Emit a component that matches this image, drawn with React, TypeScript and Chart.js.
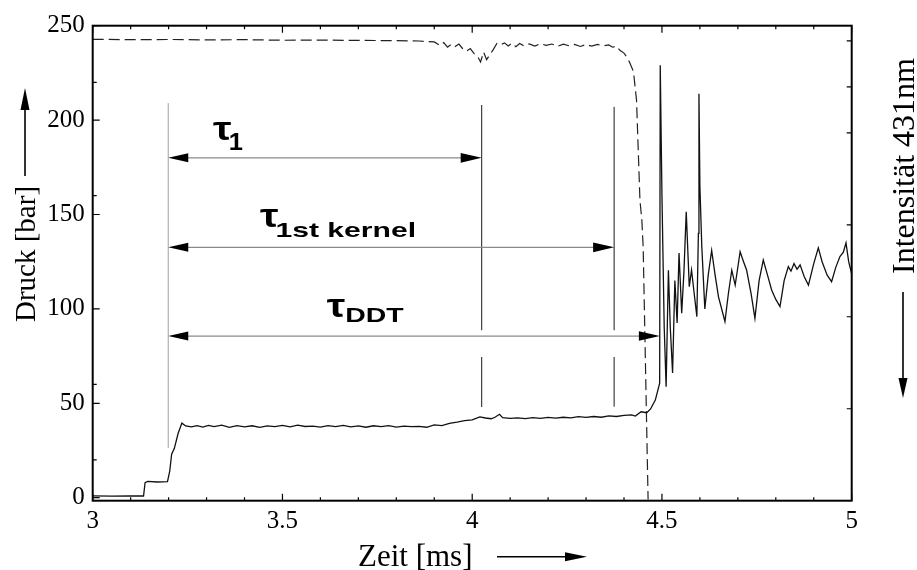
import { useEffect, useRef } from "react";
import { Chart, registerables } from "chart.js";

Chart.register(...registerables);

// ---------- data ----------
const pressureTime = [
  3.0, 3.05, 3.1, 3.134, 3.138, 3.145, 3.17, 3.197, 3.203, 3.208,
  3.215, 3.225, 3.235, 3.245, 3.26, 3.275, 3.29, 3.305, 3.32, 3.34,
  3.36, 3.38, 3.4, 3.42, 3.44, 3.46, 3.48, 3.5, 3.52, 3.54,
  3.56, 3.58, 3.6, 3.62, 3.64, 3.66, 3.68, 3.7, 3.72, 3.74,
  3.76, 3.78, 3.8, 3.82, 3.84, 3.86, 3.88, 3.9, 3.92, 3.94,
  3.96, 3.98, 4.0, 4.02, 4.035, 4.05, 4.06, 4.072, 4.08, 4.1,
  4.12, 4.14, 4.16, 4.18, 4.2, 4.22, 4.24, 4.26, 4.28, 4.3,
  4.32, 4.34, 4.36, 4.38, 4.4, 4.42, 4.43, 4.445, 4.46, 4.47,
  4.4825, 4.494, 4.4955, 4.5, 4.506, 4.511, 4.514, 4.517, 4.522, 4.528,
  4.534, 4.54, 4.545, 4.552, 4.558, 4.564, 4.572, 4.578, 4.585, 4.592,
  4.596, 4.5975, 4.6, 4.605, 4.613, 4.622, 4.631, 4.64, 4.649, 4.666,
  4.675, 4.684, 4.693, 4.706, 4.715, 4.723, 4.735, 4.745, 4.756, 4.767,
  4.778, 4.789, 4.8, 4.811, 4.822, 4.833, 4.84, 4.848, 4.856, 4.864,
  4.875, 4.886, 4.9, 4.912, 4.922, 4.935, 4.947, 4.958, 4.969, 4.978,
  4.985, 4.992, 5.0,
];
const pressureBar = [
  1.0, 0.8, 1.0, 0.9, 8.0, 8.6, 8.3, 8.5, 14.0, 23.0,
  26.0, 34.0, 39.5, 38.0, 37.5, 38.2, 37.4, 38.3, 37.6, 38.4,
  37.3, 38.2, 37.5, 38.1, 37.2, 38.0, 37.6, 38.3, 37.5, 38.4,
  37.7, 37.9, 37.4, 38.2, 37.6, 38.3, 37.5, 38.0, 37.3, 38.1,
  37.6, 38.2, 37.4, 37.9, 37.6, 37.8, 37.3, 38.6, 38.2, 39.4,
  40.0, 40.8, 41.2, 42.8, 42.2, 41.8, 42.6, 44.2, 42.4, 42.0,
  42.3, 41.9, 42.4, 42.0, 42.5, 42.1, 42.6, 42.3, 42.9, 42.5,
  43.0, 42.6, 43.3, 43.0, 43.6, 43.9, 43.2, 45.5, 45.0, 47.0,
  51.7, 60.7, 229, 160, 90, 58.8, 90, 120.5, 90, 66,
  115, 92.5, 129.6, 97.7, 120, 151.5, 111.8, 120.6, 108, 95.9,
  140, 214, 165, 133, 100, 118, 131, 118, 106.4, 93.3,
  108, 120.5, 112.6, 130.3, 125, 120.6, 108, 95, 115, 125.9,
  118, 110, 105, 101.2, 115, 122.4, 120, 124, 121, 123.3,
  117, 112.6, 124, 132.3, 125, 118, 114.4, 122, 127.7, 130,
  135, 125, 118.6,
];

const intensityTime = [
  3.0, 3.1, 3.2, 3.3, 3.4, 3.5, 3.6, 3.7, 3.8, 3.86,
  3.9, 3.915, 3.925, 3.935, 3.945, 3.955, 3.965, 3.975, 3.985, 3.995,
  4.005, 4.015, 4.022, 4.03, 4.038, 4.046, 4.055, 4.065, 4.075, 4.085,
  4.095, 4.105, 4.115, 4.125, 4.135, 4.15, 4.165, 4.18, 4.195, 4.21,
  4.225, 4.24, 4.255, 4.27, 4.285, 4.3, 4.315, 4.33, 4.345, 4.36,
  4.37, 4.38, 4.39, 4.4, 4.41, 4.416, 4.425, 4.433, 4.442, 4.447,
  4.4505, 4.4635,
];
const intensityBar = [
  242.8, 242.6, 242.7, 242.5, 242.6, 242.3, 242.4, 242.2, 242.1, 241.9,
  241.4, 239.5, 241.0, 238.6, 240.2, 239.0, 240.3, 237.8, 236.5, 237.9,
  235.2, 233.4, 230.8, 236.0, 232.0, 234.5, 237.2, 240.6, 239.8, 240.9,
  239.3, 240.7, 238.9, 240.6, 239.5, 240.4, 239.2, 240.5, 239.6, 240.3,
  239.1, 240.2, 239.4, 240.1, 239.0, 240.0, 239.2, 240.1, 239.3, 239.8,
  238.6, 239.2, 236.8, 235.5, 232.6, 230.0, 225.6, 210.6, 157.6, 147,
  133, -1,
];

const xTickValues = [3, 3.5, 4, 4.5, 5];
const xMinorTickValues = [3.1, 3.2, 3.3, 3.4, 3.6, 3.7, 3.8, 3.9, 4.1, 4.2, 4.3, 4.4, 4.6, 4.7, 4.8, 4.9];
const yTickValues = [0, 50, 100, 150, 200, 250];
const yMinorTickValues = [20, 60, 160, 220];
const rightTickValues = [2, 4, 6, 8, 9, 10];

// interval annotations (ms / bar)
const intervalStart = 3.199;
const intervalEnds = [4.025, 4.374, 4.4945];
const intervalArrowLevels = [180, 132.6, 85.6];
const intervalSubscripts = ["1", "1st kernel", "DDT"];
const intervalLabelX = [3.317, 3.441, 3.617];
const intervalLabelY = [189.5, 143.5, 95.9];
const markerLineTops = [208, 207];
const markerLineBottoms = [48, 48.2];
const markerGapRange = [74.5, 88.7];
const startLineRange = [26.3, 209];

const xTitle = "Zeit [ms]";
const yTitle = "Druck [bar]";
const y2Title = "Intensität 431nm";

// ---------- styles ----------
const SERIF = '"Liberation Serif", "Times New Roman", serif';
const SANS = '"Liberation Sans", Arial, sans-serif';
const STY = {
  tauFont: `bold 34px ${SANS}`,
  subFonts: [`bold 23px ${SANS}`, `bold 21px ${SANS}`, `bold 20px ${SANS}`],
  tauInkWidth: 18.3,
  subInkWidths: [13.3, 138, 56.7],
  subDrop: [10, 10, 5],
  subGap: [-1.5, -1.5, 1.5],
};

function arrowHead(ctx: CanvasRenderingContext2D, tx: number, ty: number, ang: number, len: number, half: number) {
  ctx.save();
  ctx.translate(tx, ty);
  ctx.rotate(ang);
  ctx.beginPath();
  ctx.moveTo(0, 0);
  ctx.lineTo(-len, -half);
  ctx.lineTo(-len, half);
  ctx.closePath();
  ctx.fill();
  ctx.restore();
}

function fittedText(ctx: CanvasRenderingContext2D, text: string, left: number, baseline: number, font: string, targetWidth: number) {
  ctx.font = font;
  const m = ctx.measureText(text);
  const ink = m.actualBoundingBoxLeft + m.actualBoundingBoxRight;
  const s = ink > 0 ? targetWidth / ink : 1;
  ctx.save();
  ctx.translate(left, baseline);
  ctx.scale(s, 1);
  ctx.textAlign = "left";
  ctx.textBaseline = "alphabetic";
  ctx.fillText(text, m.actualBoundingBoxLeft, 0);
  ctx.restore();
  return left + targetWidth;
}

const overlayPlugin = {
  id: "overlay",
  afterDatasetsDraw(chart: any) {
    const { ctx, scales } = chart;
    const xs = scales.x;
    const ys = scales.y;
    const px = (v: number) => xs.getPixelForValue(v);
    const py = (v: number) => ys.getPixelForValue(v);
    ctx.save();

    // start marker line
    ctx.strokeStyle = "#a0a0a0";
    ctx.lineWidth = 1;
    ctx.beginPath();
    ctx.moveTo(px(intervalStart), py(startLineRange[1]));
    ctx.lineTo(px(intervalStart), py(startLineRange[0]));
    ctx.stroke();

    // end marker lines (tau1, kernel)
    ctx.strokeStyle = "#1a1a1a";
    for (let i = 0; i < 2; i++) {
      const x = px(intervalEnds[i]);
      ctx.beginPath();
      ctx.moveTo(x, py(markerLineTops[i]));
      ctx.lineTo(x, py(markerGapRange[1]));
      ctx.moveTo(x, py(markerGapRange[0]));
      ctx.lineTo(x, py(markerLineBottoms[i]));
      ctx.stroke();
    }

    // arrows
    for (let i = 0; i < intervalEnds.length; i++) {
      const y = py(intervalArrowLevels[i]);
      const x0 = px(intervalStart);
      const x1 = px(intervalEnds[i]);
      ctx.strokeStyle = "#8a8a8a";
      ctx.lineWidth = 1.3;
      ctx.beginPath();
      ctx.moveTo(x0 + 10, y);
      ctx.lineTo(x1 - 10, y);
      ctx.stroke();
      ctx.fillStyle = "#000";
      arrowHead(ctx, x0, y, Math.PI, 20, 4.5);
      arrowHead(ctx, x1, y, 0, 21, 4.8);
    }

    // labels
    ctx.fillStyle = "#000";
    for (let i = 0; i < intervalSubscripts.length; i++) {
      const lx = px(intervalLabelX[i]);
      const by = py(intervalLabelY[i]);
      const r = fittedText(ctx, "τ", lx, by, STY.tauFont, STY.tauInkWidth);
      fittedText(ctx, intervalSubscripts[i], r + STY.subGap[i], by + STY.subDrop[i], STY.subFonts[i], STY.subInkWidths[i]);
    }
    ctx.restore();
  },
  afterDraw(chart: any) {
    const { ctx, chartArea: a, scales } = chart;
    const xs = scales.x;
    const ys = scales.y;
    const y2 = scales.y2;
    ctx.save();
    ctx.strokeStyle = "#000";

    // frame
    ctx.lineWidth = 2;
    ctx.strokeRect(a.left, a.top, a.right - a.left, a.bottom - a.top);

    // ticks
    ctx.lineWidth = 1.2;
    ctx.beginPath();
    for (const v of xTickValues) {
      const x = xs.getPixelForValue(v);
      ctx.moveTo(x, a.bottom); ctx.lineTo(x, a.bottom - 7);
      ctx.moveTo(x, a.top); ctx.lineTo(x, a.top + 7);
    }
    for (const v of xMinorTickValues) {
      const x = xs.getPixelForValue(v);
      ctx.moveTo(x, a.bottom); ctx.lineTo(x, a.bottom - 3.5);
      ctx.moveTo(x, a.top); ctx.lineTo(x, a.top + 3.5);
    }
    for (const v of yTickValues) {
      const y = ys.getPixelForValue(v);
      ctx.moveTo(a.left, y); ctx.lineTo(a.left + 7, y);
    }
    for (const v of yMinorTickValues) {
      const y = ys.getPixelForValue(v);
      ctx.moveTo(a.left, y); ctx.lineTo(a.left + 4, y);
    }
    for (const v of rightTickValues) {
      const y = y2.getPixelForValue(v);
      ctx.moveTo(a.right, y); ctx.lineTo(a.right - 5, y);
    }
    ctx.stroke();

    // axis titles
    ctx.fillStyle = "#000";
    ctx.textAlign = "center";
    ctx.textBaseline = "alphabetic";

    // Druck [bar]
    ctx.save();
    ctx.translate(35, 254);
    ctx.rotate(-Math.PI / 2);
    ctx.font = `29px ${SERIF}`;
    ctx.fillText(yTitle, 0, 0);
    ctx.restore();
    ctx.lineWidth = 1.6;
    ctx.beginPath();
    ctx.moveTo(25, 176); ctx.lineTo(25, 100);
    ctx.stroke();
    arrowHead(ctx, 25, 88, -Math.PI / 2, 22, 4.5);

    // Zeit [ms]
    ctx.textAlign = "left";
    ctx.font = `31px ${SERIF}`;
    ctx.fillText(xTitle, 358, 566);
    ctx.beginPath();
    ctx.moveTo(497, 556.7); ctx.lineTo(575, 556.7);
    ctx.stroke();
    arrowHead(ctx, 587, 556.7, 0, 22, 4.5);

    // Intensität 431nm
    ctx.save();
    ctx.translate(913.5, 166);
    ctx.rotate(-Math.PI / 2);
    ctx.textAlign = "center";
    ctx.font = `32px ${SERIF}`;
    ctx.fillText(y2Title, 0, 0);
    ctx.restore();
    ctx.beginPath();
    ctx.moveTo(903, 292); ctx.lineTo(903, 385);
    ctx.stroke();
    arrowHead(ctx, 903, 398, Math.PI / 2, 20, 4.5);

    ctx.restore();
  },
};

export default function App() {
  const ref = useRef<HTMLCanvasElement | null>(null);
  useEffect(() => {
    const canvas = ref.current;
    if (!canvas) return;
    const pressure = pressureTime.map((t, i) => ({ x: t, y: pressureBar[i] }));
    const intensity = intensityTime.map((t, i) => ({ x: t, y: intensityBar[i] }));
    const chart = new Chart(canvas, {
      type: "line",
      data: {
        datasets: [
          {
            label: "Druck",
            data: pressure,
            borderColor: "#111",
            borderWidth: 1.3,
            pointRadius: 0,
            tension: 0,
            fill: false,
          },
          {
            label: "Intensität",
            data: intensity,
            borderColor: "#222",
            borderWidth: 1.2,
            borderDash: [11, 5],
            pointRadius: 0,
            tension: 0,
            fill: false,
          },
        ],
      },
      options: {
        animation: false,
        responsive: false,
        devicePixelRatio: 1,
        layout: { padding: { left: 0, top: 25.7, right: 65.3, bottom: 0 } },
        plugins: { legend: { display: false }, tooltip: { enabled: false } },
        scales: {
          x: {
            type: "linear",
            position: "bottom",
            min: 3,
            max: 5,
            afterBuildTicks: (s: any) => { s.ticks = xTickValues.map((v) => ({ value: v })); },
            afterFit: (s: any) => { s.height = 69.3; },
            grid: { display: false, drawTicks: false },
            border: { display: false },
            ticks: {
              color: "#000",
              padding: 6,
              maxRotation: 0,
              autoSkip: false,
              font: { family: SERIF, size: 25 },
              callback: (v: any) => String(v),
            },
          },
          y: {
            type: "linear",
            position: "left",
            min: -1.6,
            max: 250,
            afterBuildTicks: (s: any) => { s.ticks = yTickValues.map((v) => ({ value: v })); },
            afterFit: (s: any) => { s.width = 92.7; },
            grid: { display: false, drawTicks: false },
            border: { display: false },
            ticks: {
              color: "#000",
              padding: 8,
              autoSkip: false,
              font: { family: SERIF, size: 25 },
              callback: (v: any) => String(v),
            },
          },
          y2: {
            type: "linear",
            position: "right",
            display: false,
            min: 0,
            max: 10.33,
          },
        },
      },
      plugins: [overlayPlugin],
    } as any);
    return () => chart.destroy();
  }, []);
  return (
    <div style={{ position: "fixed", left: 0, top: 0, width: 917, height: 570, background: "#fff" }}>
      <canvas ref={ref} width={917} height={570} style={{ display: "block" }} />
    </div>
  );
}
